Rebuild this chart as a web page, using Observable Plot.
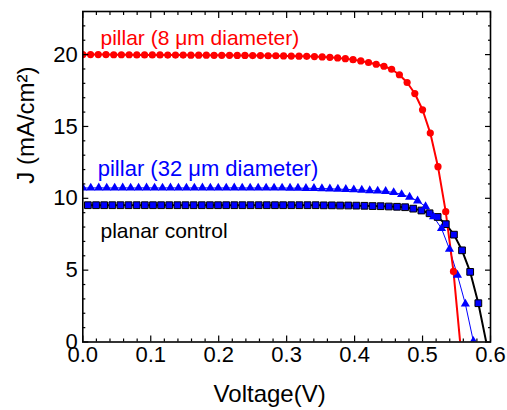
<!DOCTYPE html>
<html><head><meta charset="utf-8">
<script src="https://cdn.jsdelivr.net/npm/d3@7"></script>
<script src="https://cdn.jsdelivr.net/npm/@observablehq/plot@0.6"></script>
<style>
html,body{margin:0;padding:0;background:#fff;}
#chart svg{display:block;}
</style></head><body><div id="chart"></div>
<script>
// pillar (8 um diameter) — red circles
const pillar8V = [0, 0.0114, 0.0227, 0.0341, 0.0455, 0.0568, 0.0682, 0.0795, 0.0909, 0.1023,
  0.1136, 0.125, 0.1364, 0.1477, 0.1591, 0.1705, 0.1818, 0.1932, 0.2045, 0.2159,
  0.2273, 0.2386, 0.25, 0.2614, 0.2727, 0.2841, 0.2955, 0.3068, 0.3182, 0.3295,
  0.3409, 0.3523, 0.3636, 0.375, 0.3864, 0.3977, 0.4091, 0.4205, 0.4318, 0.4432,
  0.4545, 0.4659, 0.4773, 0.4886, 0.5, 0.5114, 0.5227, 0.5341, 0.5455];
const pillar8J = [20.0, 20.0, 20.0, 20.0, 19.99, 19.99, 19.99, 19.98, 19.98, 19.98,
  19.98, 19.97, 19.97, 19.97, 19.96, 19.96, 19.96, 19.95, 19.95, 19.95,
  19.94, 19.94, 19.93, 19.93, 19.92, 19.92, 19.91, 19.9, 19.89, 19.88,
  19.86, 19.84, 19.81, 19.77, 19.72, 19.65, 19.56, 19.45, 19.33, 19.19,
  18.98, 18.6, 18.06, 17.29, 16.16, 14.54, 12.2, 9.07, 4.91];
const pillar8TailV = [0.5569];
const pillar8TailJ = [-0.8];

// pillar (32 um diameter) — blue triangles
const pillar32V = [0, 0.0117, 0.0235, 0.0352, 0.0469, 0.0587, 0.0704, 0.0821, 0.0938, 0.1056,
  0.1173, 0.129, 0.1408, 0.1525, 0.1642, 0.176, 0.1877, 0.1994, 0.2111, 0.2229,
  0.2346, 0.2463, 0.2581, 0.2698, 0.2815, 0.2933, 0.305, 0.3167, 0.3284, 0.3402,
  0.3519, 0.3636, 0.3754, 0.3871, 0.3988, 0.4106, 0.4223, 0.434, 0.4457, 0.4575,
  0.4692, 0.4809, 0.4927, 0.5044, 0.5161, 0.5279, 0.5396, 0.5513, 0.563, 0.5748];
const pillar32J = [10.72, 10.72, 10.73, 10.72, 10.72, 10.73, 10.72, 10.72, 10.73, 10.72,
  10.72, 10.73, 10.72, 10.72, 10.72, 10.73, 10.72, 10.72, 10.72, 10.73,
  10.72, 10.72, 10.72, 10.72, 10.72, 10.72, 10.71, 10.71, 10.7, 10.69,
  10.68, 10.66, 10.64, 10.62, 10.6, 10.57, 10.54, 10.51, 10.48, 10.41,
  10.27, 10.09, 9.82, 9.43, 8.72, 7.9, 6.46, 4.66, 2.65, 0.05];

// planar control — blue squares, black line
const planarV = [0.0075, 0.0195, 0.0314, 0.0434, 0.0554, 0.0673, 0.0793, 0.0913, 0.1033, 0.1152,
  0.1272, 0.1392, 0.1511, 0.1631, 0.1751, 0.1871, 0.199, 0.211, 0.223, 0.2349,
  0.2469, 0.2589, 0.2708, 0.2828, 0.2948, 0.3068, 0.3187, 0.3307, 0.3427, 0.3546,
  0.3666, 0.3786, 0.3906, 0.4025, 0.4145, 0.4265, 0.4384, 0.4504, 0.4624, 0.4743,
  0.4863, 0.4983, 0.5103, 0.5222, 0.5342, 0.5462, 0.5581, 0.5701, 0.5821];
const planarJ = [9.52, 9.52, 9.52, 9.52, 9.52, 9.52, 9.52, 9.52, 9.52, 9.52,
  9.52, 9.52, 9.52, 9.52, 9.52, 9.52, 9.52, 9.52, 9.52, 9.52,
  9.52, 9.52, 9.52, 9.52, 9.52, 9.52, 9.52, 9.52, 9.52, 9.51,
  9.51, 9.5, 9.5, 9.49, 9.48, 9.46, 9.45, 9.43, 9.41, 9.38,
  9.28, 9.15, 8.96, 8.7, 8.2, 7.47, 6.38, 4.88, 2.7];
const planarTailV = [0.5966];
const planarTailJ = [-0.68];

// ticks and text
const xMajorTicks = [0, 0.1, 0.2, 0.3, 0.4, 0.5, 0.6];
const xMinorTicks = [0.02, 0.04, 0.06, 0.08, 0.12, 0.14, 0.16, 0.18, 0.22, 0.24, 0.26, 0.28,
  0.32, 0.34, 0.36, 0.38, 0.42, 0.44, 0.46, 0.48, 0.52, 0.54, 0.56, 0.58];
const yMajorTicks = [0, 5, 10, 15, 20];
const yMinorTicks = [1, 2, 3, 4, 6, 7, 8, 9, 11, 12, 13, 14, 16, 17, 18, 19, 21, 22];
const seriesLabels = ["pillar (8 \u03bcm diameter)", "pillar (32 \u03bcm diameter)", "planar control"];
const xTitle = "Voltage(V)";
const yTitle = "J (mA/cm\u00b2)";

const toRows = (vs, js) => vs.map((v, i) => ({v, j: js[i]}));
const p8 = toRows(pillar8V, pillar8J);
const p8Line = p8.concat(toRows(pillar8TailV, pillar8TailJ));
const p32 = toRows(pillar32V, pillar32J);
const pl = toRows(planarV, planarJ);
const plLine = pl.concat(toRows(planarTailV, planarTailJ));

const RED = "#ff0000", BLUE = "#0000ff";
const font = "'Liberation Sans', Arial, Helvetica, sans-serif";
const noText = () => "";

const chart = Plot.plot({
  width: 507, height: 410,
  marginLeft: 82.3, marginRight: 17, marginTop: 11, marginBottom: 68.5,
  style: {fontFamily: font, background: "white", color: "black", overflow: "visible"},
  x: {domain: [0, 0.6]},
  y: {domain: [0, 23]},
  marks: [
    Plot.line(plLine, {x: "v", y: "j", stroke: "black", strokeWidth: 2, clip: true}),
    Plot.line(p32, {x: "v", y: "j", stroke: BLUE, strokeWidth: 1, clip: true}),
    Plot.line(p8Line, {x: "v", y: "j", stroke: RED, strokeWidth: 2, clip: true}),
    Plot.dot(pl, {x: "v", y: "j", symbol: "square", r: 3.8, fill: BLUE, stroke: "black", strokeWidth: 1, clip: true}),
    Plot.dot(p32, {x: "v", y: "j", symbol: "triangle", r: 3.4, fill: BLUE, stroke: null, clip: true}),
    Plot.dot(p8, {x: "v", y: "j", symbol: "circle", r: 3.6, fill: RED, stroke: null, clip: true}),
    // inward ticks on all four sides
    Plot.axisX(xMajorTicks, {anchor: "bottom", tickSize: -6, tickFormat: noText, label: null, strokeWidth: 1.2}),
    Plot.axisX(xMinorTicks, {anchor: "bottom", tickSize: -3, tickFormat: noText, label: null, strokeWidth: 1.2}),
    Plot.axisX(xMajorTicks, {anchor: "top", tickSize: -6, tickFormat: noText, label: null, strokeWidth: 1.2}),
    Plot.axisX(xMinorTicks, {anchor: "top", tickSize: -3, tickFormat: noText, label: null, strokeWidth: 1.2}),
    Plot.axisY(yMajorTicks, {anchor: "left", tickSize: -6, tickFormat: noText, label: null, strokeWidth: 1.2}),
    Plot.axisY(yMinorTicks, {anchor: "left", tickSize: -3, tickFormat: noText, label: null, strokeWidth: 1.2}),
    Plot.axisY(yMajorTicks, {anchor: "right", tickSize: -6, tickFormat: noText, label: null, strokeWidth: 1.2}),
    Plot.axisY(yMinorTicks, {anchor: "right", tickSize: -3, tickFormat: noText, label: null, strokeWidth: 1.2}),
    // tick labels
    Plot.axisX(xMajorTicks, {anchor: "bottom", tickSize: 0, tickPadding: 4.5, tickFormat: d3.format(".1f"), label: null, fontSize: 22}),
    Plot.axisY(yMajorTicks, {anchor: "left", tickSize: 0, tickPadding: 5, tickFormat: d3.format("d"), label: null, fontSize: 22}),
    Plot.frame({stroke: "black", strokeWidth: 1.6}),
    // axis titles
    Plot.text([xTitle], {text: d => d, frameAnchor: "bottom", dx: -17, dy: 52.5, fontSize: 24, lineAnchor: "middle"}),
    Plot.text([yTitle], {text: d => d, frameAnchor: "left", dx: -56, dy: 7, rotate: -90, fontSize: 24, lineAnchor: "middle"}),
    // series labels
    Plot.text([seriesLabels[0]], {text: d => d, x: 0.026, y: 21.15, textAnchor: "start", lineAnchor: "middle", fontSize: 21, fill: RED}),
    Plot.text([seriesLabels[1]], {text: d => d, x: 0.022, y: 12.07, textAnchor: "start", lineAnchor: "middle", fontSize: 22, fill: BLUE}),
    Plot.text([seriesLabels[2]], {text: d => d, x: 0.026, y: 7.74, textAnchor: "start", lineAnchor: "middle", fontSize: 21, fill: "black"})
  ]
});
document.getElementById("chart").appendChild(chart);
</script>
</body></html>
